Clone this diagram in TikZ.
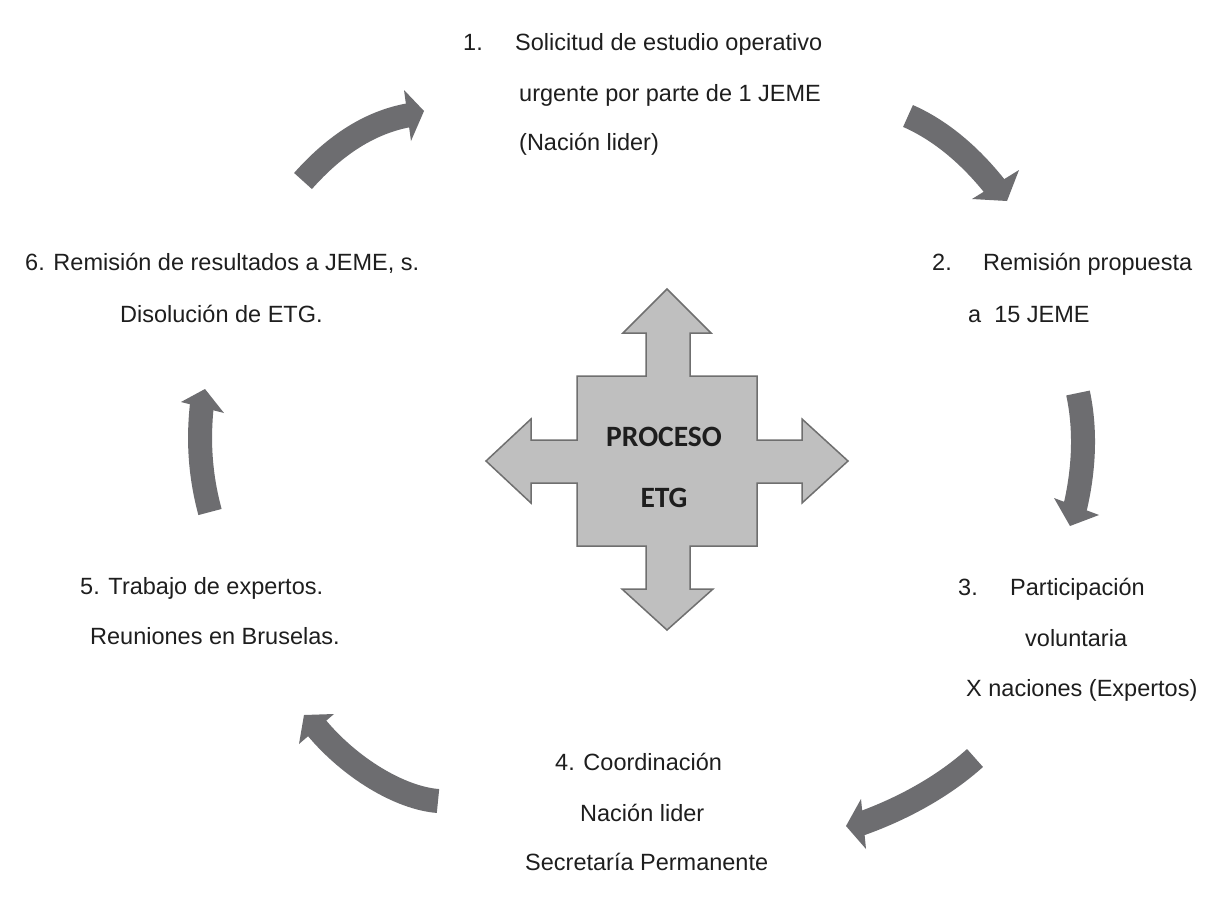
\documentclass[tikz,border=0pt]{standalone}
\usepackage{fontspec}
\setmainfont{Liberation Sans}
\newfontfamily\calibri{Carlito}
\definecolor{arrgray}{HTML}{6D6D70}
\definecolor{crossfill}{HTML}{BFBFBF}
\definecolor{crossline}{HTML}{6F6F6F}
\definecolor{txtgray}{HTML}{1E1E1E}
\begin{document}
\begin{tikzpicture}[x=1pt,y=-1pt,
  lbl/.style={anchor=base west, inner sep=0pt, font=\fontsize{23.5}{28}\selectfont, text=txtgray},
  band/.style={draw=arrgray, line width=24pt},
  head/.style={fill=arrgray},
  crossshape/.style={fill=crossfill, draw=crossline, line width=1.5pt, line join=miter}
]
\fill[white] (0,0) rectangle (1208,900);
\useasboundingbox (0,0) rectangle (1208,900);

% central cross
\draw[crossshape] (667,289) -- (711,333) -- (690,333) -- (690,376) -- (757,376) -- (757,440)
  -- (802,440) -- (802,419) -- (848,461) -- (802,503) -- (802,483) -- (757,483) -- (757,546)
  -- (690,546) -- (690,589) -- (713,589) -- (667,630) -- (622,589) -- (646,589) -- (646,546)
  -- (577,546) -- (577,483) -- (531,483) -- (531,503) -- (486,461) -- (531,419) -- (531,440)
  -- (577,440) -- (577,376) -- (646,376) -- (646,333) -- (623,333) -- cycle;
\node[font=\calibri\bfseries\fontsize{29.5}{61}\selectfont, align=center, text=txtgray] (proc) at (664,467) {PROCESO\\ETG};

% texts
\node[lbl] (t1n) at (463,50) {1.};
\node[lbl] (t1a) at (515,50) {Solicitud de estudio operativo};
\node[lbl] (t1b) at (519,101) {urgente por parte de 1 JEME};
\node[lbl] (t1c) at (519,150) {(Nación lider)};

\node[lbl] (t2n) at (932,270) {2.};
\node[lbl] (t2a) at (983,270) {Remisión propuesta};
\node[lbl] (t2b) at (968,322) {a\ \ 15 JEME};

\node[lbl] (t3n) at (958,595) {3.};
\node[lbl] (t3a) at (1010,595) {Participación};
\node[lbl] (t3b) at (1025,646) {voluntaria};
\node[lbl] (t3c) at (966,696) {X naciones (Expertos)};

\node[lbl] (t4a) at (555,770) {4. Coordinación};
\node[lbl] (t4b) at (580,821) {Nación lider};
\node[lbl] (t4c) at (525,870) {Secretaría Permanente};

\node[lbl] (t5a) at (80,594) {5. Trabajo de expertos.};
\node[lbl] (t5b) at (90,644) {Reuniones en Bruselas.};

\node[lbl] (t6a) at (25,270) {6. Remisión de resultados a JEME, s.};
\node[lbl] (t6b) at (120,322) {Disolución de ETG.};

% curved arrows
% 6 -> 1
\draw[band] (303,181) .. controls (335,145) and (370,122) .. (410,115);
\fill[head] (404,90) -- (424,111) -- (411,141) -- cycle;
% 1 -> 2
\draw[band] (908,116) .. controls (940,130) and (970,155) .. (996,188);
\fill[head] (972,199) -- (1007,201) -- (1019,170) -- cycle;
% 2 -> 3
\draw[band] (1078,393) .. controls (1086,430) and (1084,470) .. (1075,508);
\fill[head] (1054,498) -- (1070,526) -- (1099,515) -- cycle;
% 3 -> 4
\draw[band] (975,758) .. controls (945,785) and (905,808) .. (860,824);
\fill[head] (861,799) -- (846,826) -- (866,849) -- cycle;
% 4 -> 5
\draw[band] (438,801) .. controls (400,798) and (350,768) .. (316,727);
\fill[head] (334,714) -- (304,715) -- (299,744) -- cycle;
% 5 -> 6
\draw[band] (210,512) .. controls (200,475) and (198,440) .. (202,404);
\fill[head] (181,402) -- (205,389) -- (224,413) -- cycle;
\end{tikzpicture}
\end{document}
